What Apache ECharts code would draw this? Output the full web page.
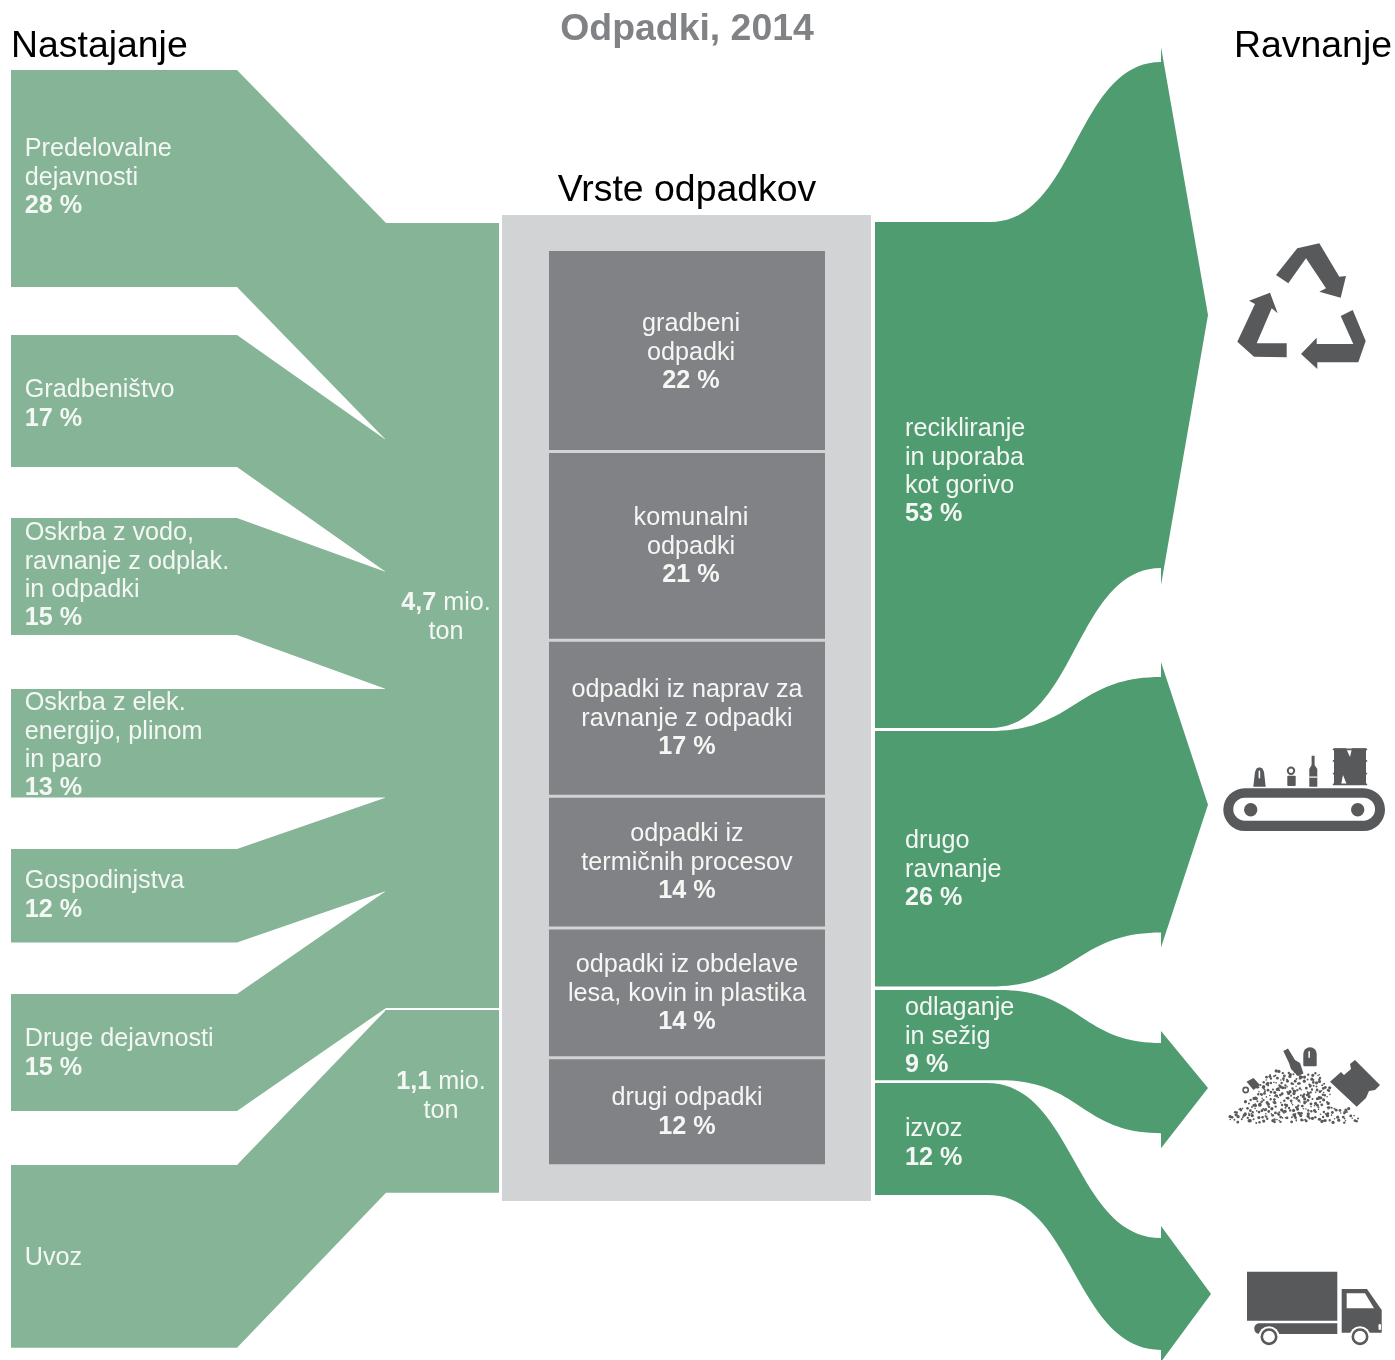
<!DOCTYPE html>
<html><head><meta charset="utf-8">
<style>html,body{margin:0;padding:0;background:#fff}#c{width:1395px;height:1360px}</style>
<script src="https://cdn.jsdelivr.net/npm/echarts@6/dist/echarts.min.js"></script>
</head><body><div id="c"></div>
<script>
// ---------- data (million tons; shares as printed) ----------
const sourceNames = ['Predelovalne\ndejavnosti','Gradbeništvo','Oskrba z vodo,\nravnanje z odplak.\nin odpadki','Oskrba z elek.\nenergijo, plinom\nin paro','Gospodinjstva','Druge dejavnosti','Uvoz'];
const sourceValues = [1.30,0.79,0.70,0.65,0.56,0.70,1.095];
const sourceShares = ['28 %','17 %','15 %','13 %','12 %','15 %',''];
const wasteNames = ['gradbeni\nodpadki','komunalni\nodpadki','odpadki iz naprav za\nravnanje z odpadki','odpadki iz\ntermičnih procesov','odpadki iz obdelave\nlesa, kovin in plastika','drugi odpadki'];
const wasteValues = [1.275,1.19,0.985,0.83,0.82,0.68];
const wasteShares = ['22 %','21 %','17 %','14 %','14 %','12 %'];
const treatNames = ['recikliranje\nin uporaba\nkot gorivo','drugo\nravnanje','odlaganje\nin sežig','izvoz'];
const treatValues = [3.03,1.53,0.54,0.67];
const treatShares = ['53 %','26 %','9 %','12 %'];

// ---------- layout (separate from the data) ----------
const FLOW_PX = 167, WASTE_PX = 158.5;
const L = {x0:11,x1:237,x2:386,x3:499,top0:70,top1:223,gaps:[0,48,51,54,51.5,51.5,54],split:2};
const C = {x0:502,x1:871,y0:215,y1:1201,bx0:549,bx1:825,by0:251,gap:3};
const R = {x0:875,cs:[990,990,1000,987],xe:1161,
  tops:[222,731,990,1083],exits:[62,677,1043,1238],overT:[15,15,12,12],overB:[17,15,15,12],apexX:[1208,1208,1208,1211]};
const LABEL = {font:'"Liberation Sans",Arial,sans-serif',size:25.2,lh:28.4};
const GREEN_L='#85b596', GREEN_R='#509c71', GREY_BG='#d1d3d4', GREY_BOX='#808285', ICON='#58595b';

const richText = {
  r:{fontFamily:LABEL.font,fontSize:LABEL.size,lineHeight:LABEL.lh,fill:'#f4f7f4',color:'#f4f7f4'},
  b:{fontFamily:LABEL.font,fontSize:LABEL.size,lineHeight:LABEL.lh,fontWeight:'bold',fill:'#f4f7f4',color:'#f4f7f4'}
};
function lines(name,share){
  const a=name.split('\n').map(s=>'{r|'+s+'}');
  if(share) a.push('{b|'+share+'}');
  return a.join('\n');
}
function textEl(api,x,yc,text,align){
  const p=api.coord([x,yc-LABEL.lh/2+1.3]);
  return {type:'text',style:{x:p[0],y:p[1],text:text,rich:richText,align:align,verticalAlign:'top',textAlign:align,textVerticalAlign:'top',font:LABEL.size+'px '+LABEL.font}};
}
function bez(p0,p1,p2,p3,n){
  const out=[];
  for(let i=0;i<=n;i++){const t=i/n,u=1-t;
    out.push([u*u*u*p0[0]+3*u*u*t*p1[0]+3*u*t*t*p2[0]+t*t*t*p3[0],u*u*u*p0[1]+3*u*u*t*p1[1]+3*u*t*t*p2[1]+t*t*t*p3[1]]);}
  return out;
}

// source band offsets from stacked values
const srcLeftTop=[],srcRightTop=[];
(function(){
  let a=L.top0,b=L.top1;
  sourceValues.forEach((v,i)=>{
    const h=v*FLOW_PX;
    a+=L.gaps[i]; srcLeftTop.push(a); 
    if(i===6) b+=2;
    srcRightTop.push(b);
    a+=h; b+=h;
  });
})();
const aggregated=[[0,5],[6,6]];
const wasteTop=[];
wasteValues.reduce((acc,v)=>{wasteTop.push(acc);return acc+v*WASTE_PX;},C.by0);

const sourceSeries={type:'custom',name:'Nastajanje',coordinateSystem:'cartesian2d',silent:true,
  data:sourceValues.map((v,i)=>[i,v]),
  renderItem:function(p,api){
    const i=api.value(0),h=api.value(1)*FLOW_PX,t=srcLeftTop[i],t2=srcRightTop[i];
    const pts=[[L.x0,t],[L.x1,t],[L.x2,t2],[L.x2,t2+h],[L.x1,t+h],[L.x0,t+h]].map(q=>api.coord(q));
    return {type:'polygon',shape:{points:pts},style:{fill:GREEN_L}};
  }};
const blockSeries={type:'custom',name:'Skupaj',coordinateSystem:'cartesian2d',silent:true,
  data:aggregated,
  renderItem:function(p,api){
    const a=api.value(0),b=api.value(1);
    const y0=srcRightTop[a],y1=srcRightTop[b]+sourceValues[b]*FLOW_PX;
    const pts=[[L.x2-1,y0],[L.x3,y0],[L.x3,y1],[L.x2-1,y1]].map(q=>api.coord(q));
    return {type:'polygon',shape:{points:pts},style:{fill:GREEN_L}};
  }};
const panelSeries={type:'custom',name:'panel',coordinateSystem:'cartesian2d',silent:true,data:[[C.x0,C.y0,C.x1,C.y1]],
  renderItem:function(p,api){
    const a=api.coord([api.value(0),api.value(1)]),b=api.coord([api.value(2),api.value(3)]);
    return {type:'rect',shape:{x:a[0],y:a[1],width:b[0]-a[0],height:b[1]-a[1]},style:{fill:GREY_BG}};
  }};
const wasteSeries={type:'custom',name:'Vrste odpadkov',coordinateSystem:'cartesian2d',silent:true,
  data:wasteValues.map((v,i)=>[i,v]),
  renderItem:function(p,api){
    const i=api.value(0),h=api.value(1)*WASTE_PX;
    const a=api.coord([C.bx0,wasteTop[i]]),b=api.coord([C.bx1,wasteTop[i]+h-C.gap]);
    return {type:'group',children:[
      {type:'rect',shape:{x:a[0],y:a[1],width:b[0]-a[0],height:b[1]-a[1]},style:{fill:GREY_BOX}}]};
  }};
const treatSeries={type:'custom',name:'Ravnanje',coordinateSystem:'cartesian2d',silent:true,
  data:treatValues.map((v,i)=>[i,v]),
  renderItem:function(p,api){
    const i=api.value(0),h=api.value(1)*FLOW_PX,t=R.tops[i],e=R.exits[i],cs=R.cs[i],xe=R.xe,mx=(cs+xe)/2;
    const top=bez([cs,t],[mx,t],[mx,e],[xe,e],40);
    const bot=bez([xe,e+h],[mx,e+h],[mx,t+h],[cs,t+h],40);
    const pts=[[R.x0,t]].concat(top,[[xe,e-R.overT[i]],[R.apexX[i],e+h/2],[xe,e+h+R.overB[i]]],bot,[[R.x0,t+h]]).map(q=>api.coord(q));
    return {type:'polygon',shape:{points:pts},style:{fill:GREEN_R}};
  }};

// text placements: [x, y centre of first line]
const sourceLabelPos=[[24.7,148],[24.7,389],[24.7,532],[24.7,702],[24.7,880],[24.7,1038],[24.7,1257]];
const wasteLabelPos=[[691,323],[691,517],[687,689],[687,833],[687,964],[687,1097]];
const treatLabelPos=[[905,428],[905,840],[905,1007],[905,1128]];
const labelSeries={type:'custom',name:'labels',coordinateSystem:'cartesian2d',silent:true,data:[[0]],z:5,
  renderItem:function(p,api){
    const ch=[];
    sourceNames.forEach((n,i)=>ch.push(textEl(api,sourceLabelPos[i][0],sourceLabelPos[i][1],lines(n,sourceShares[i]),'left')));
    wasteNames.forEach((n,i)=>ch.push(textEl(api,wasteLabelPos[i][0],wasteLabelPos[i][1],lines(n,wasteShares[i]),'center')));
    treatNames.forEach((n,i)=>ch.push(textEl(api,treatLabelPos[i][0],treatLabelPos[i][1],lines(n,treatShares[i]),'left')));
    ch.push(textEl(api,446,602,'{b|4,7}{r| mio.}\n{r|ton}','center'));
    ch.push(textEl(api,441,1081,'{b|1,1}{r| mio.}\n{r|ton}','center'));
    return {type:'group',children:ch};
  }};

// ---------- pictograms ----------
function poly(pts,fill){return {type:'polygon',shape:{points:pts},style:{fill:fill||ICON}};}
function rect(x,y,w,h,r,fill){return {type:'rect',shape:{x:x,y:y,width:w,height:h,r:r||0},style:{fill:fill||ICON}};}
function circ(x,y,r,fill){return {type:'circle',shape:{cx:x,cy:y,r:r},style:{fill:fill||ICON}};}
function ring(x,y,r,w){return {type:'circle',shape:{cx:x,cy:y,r:r},style:{fill:'none',stroke:ICON,lineWidth:w}};}
const icons=[
  // recycling
  poly([[1276,275],[1297.3,248.3],[1319.3,243.3],[1339.3,276.7],[1346,276],[1340.7,297.7],[1319.3,291.7],[1326,288.3],[1306,258.3],[1288.3,283.3]]),
  poly([[1270,292.7],[1277.7,313.3],[1271.7,308.3],[1256.7,343.3],[1286.7,343.3],[1286.7,357.3],[1254,356.7],[1237.3,341.7],[1255,304],[1249,300.7]]),
  poly([[1352.7,310],[1365.7,341],[1358.3,362.3],[1317.3,362.3],[1317.3,369],[1301,354],[1316.7,337.7],[1316.7,344],[1353.3,344],[1340.7,316]]),
  // conveyor
  rect(1223.3,788.3,161.7,42.7,21.3),
  rect(1233.3,797.7,141.7,23,11.5,'#fff'),
  circ(1250.7,809.7,6.7),circ(1357.7,809.7,6.7),
  poly([[1255,772],[1256.5,768.5],[1259.5,767.3],[1262.5,768.5],[1264,772],[1265.7,786.7],[1253.3,786.7]]),
  rect(1258.6,770.5,1.6,8,0.8,'#fff'),
  ring(1291,770.7,3.2,2),rect(1287.3,775.7,8.4,10.3,1),
  poly([[1311.6,755.7],[1314.6,755.7],[1314.6,765],[1317.3,769],[1317.3,786.7],[1309.3,786.7],[1309.3,769],[1311.6,765]]),
  rect(1309.3,776.5,8,1.2,0,'#fff'),
  poly([[1334,748.3],[1346,748.3],[1350,757],[1352,748.3],[1366,748.3],[1366,785],[1347,785],[1343,775],[1341,785],[1334,785]]),
  rect(1332.7,748.5,34.6,1.8,0.9),rect(1332.7,760,34.6,1.8,0.9),rect(1332.7,772.7,34.6,1.8,0.9),rect(1332.7,783.5,34.6,1.8,0.9),
  // truck
  rect(1247,1271.7,90.3,49),
  rect(1254.3,1323.3,83,10.7,[5,0,0,5]),
  poly([[1341.7,1289],[1367,1289],[1381.7,1310],[1381.7,1332.7],[1341.7,1332.7]]),
  poly([[1346.7,1293.3],[1365,1293.3],[1374,1308.3],[1346.7,1308.3]],'#fff'),
  rect(1378.5,1324,2.5,6,1.2,'#fff'),
  circ(1269,1336.7,10.5,'#fff'),ring(1269,1336.7,7.2,2.6),
  circ(1360,1336.7,10.5,'#fff'),ring(1360,1336.7,7.2,2.6),
  // waste pile objects
  poly([[1283.3,1051],[1288,1048.5],[1295,1060],[1300,1063],[1303.5,1073.5],[1298,1076],[1291,1069],[1289,1063]]),
  rect(1303.3,1047.3,13.4,19,[6.5,6.5,1,1]),
  rect(1308.4,1051,1.5,7,0.7,'#fff'),
  poly([[1330,1081.7],[1341,1072],[1344,1075],[1351,1069],[1350,1064],[1355,1060],[1380,1085],[1375,1090],[1369,1091],[1366,1098],[1356.7,1106.7]]),
  poly([[1246.5,1081.7],[1253.5,1078],[1260,1085],[1253.5,1090]]),
  ring(1245.7,1090,2.6,1.6)
];
// gravel of the pile: a fixed decorative stipple inside the pile's outline
const pileOutline=[[1225,1120],[1235,1110],[1248,1098],[1265,1077],[1278,1068],[1292,1070],[1308,1073],[1322,1073],[1330,1087],[1342,1098],[1355,1113],[1363,1120]];
function pileTop(x){for(let i=0;i<pileOutline.length-1;i++){const a=pileOutline[i],b=pileOutline[i+1];if(x>=a[0]&&x<=b[0])return a[1]+(b[1]-a[1])*(x-a[0])/(b[0]-a[0]);}return 9999;}
for(let i=1;i<=620;i++){
  const j1=Math.sin(i*12.9898)*3.2, j2=Math.sin(i*78.233)*3.2;
  const x=1225+138*((i*0.7548776662)%1)+j1, y=1068+56*((i*0.5698402910)%1)+j2;
  if(y>=pileTop(x)&&y<=1123){
    const inObj=(x>1330&&y<1107&&x-y>225);
    if(!inObj) icons.push(circ(x,y,0.8+((i*7)%5)*0.2));
  }
}

function head(text,x,y,align,opt){
  return {type:'text',x:x,y:y,style:Object.assign({text:text,fontFamily:LABEL.font,fontSize:37.4,fill:'#000',textAlign:align,textVerticalAlign:'middle',align:align,verticalAlign:'middle'},opt||{})};
}
const titles=[
  head('Odpadki, 2014',687,29.5,'center',{fontWeight:'bold',fill:'#808285'}),
  head('Nastajanje',11,46.5,'left'),
  head('Ravnanje',1234,46.5,'left'),
  head('Vrste odpadkov',687,190.5,'center')
];

const chart=echarts.init(document.getElementById('c'),null,{renderer:'canvas'});
chart.setOption({
  animation:false,
  backgroundColor:'#fff',
  grid:{left:0,right:0,top:0,bottom:0},
  xAxis:{type:'value',min:0,max:1395,show:false},
  yAxis:{type:'value',min:0,max:1360,inverse:true,show:false},
  series:[sourceSeries,blockSeries,panelSeries,wasteSeries,treatSeries,labelSeries],
  graphic:{elements:titles.concat(icons.map(e=>Object.assign({silent:true},e)))}
});
</script></body></html>
